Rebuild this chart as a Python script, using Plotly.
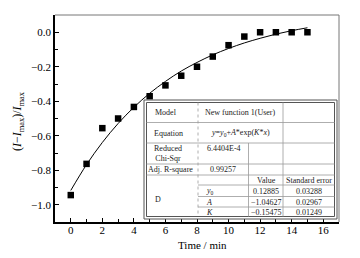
import plotly.graph_objects as go

# ---- data ----
time_min = [0, 1, 2, 3, 4, 5, 6, 7, 8, 9, 10, 11, 12, 13, 14, 15]
norm_intensity = [-0.944, -0.763, -0.556, -0.500, -0.433, -0.371, -0.308, -0.252,
                  -0.200, -0.141, -0.075, -0.025, 0.0, 0.0, 0.0, 0.0]
fit_time = [0, 1, 2, 3, 4, 5, 6, 7, 8, 9, 10, 11, 12, 13, 14, 15]
fit_values = [-0.917, -0.767, -0.639, -0.529, -0.435, -0.354, -0.285, -0.225,
              -0.175, -0.131, -0.094, -0.062, -0.035, -0.011, 0.009, 0.026]
x_ticks = [0, 2, 4, 6, 8, 10, 12, 14, 16]
y_ticks = [0.0, -0.2, -0.4, -0.6, -0.8, -1.0]

# ---- geometry (window pixels); the page body has an 8px margin ----
PAGE_W, PAGE_H, BODY = 360, 258, 8
L, R, T, B = 55, 339, 15, 222

def px(x):
    return (x - L) / (R - L)

def py(y):
    return (B - y) / (B - T)

FONT = "Liberation Serif"

fig = go.Figure()
fig.add_trace(go.Scatter(x=fit_time, y=fit_values, mode="lines", line_shape="spline",
                         line=dict(color="black", width=1), showlegend=False))
fig.add_trace(go.Scatter(x=time_min, y=norm_intensity, mode="markers",
                         marker=dict(symbol="square", size=6.5, color="black"), showlegend=False))

fig.update_layout(
    width=PAGE_W - BODY, height=PAGE_H - BODY,
    margin=dict(l=L - BODY, r=PAGE_W - R, t=T - BODY, b=PAGE_H - B, autoexpand=False),
    plot_bgcolor="white", paper_bgcolor="white",
    font=dict(family=FONT, size=11, color="black"),
    showlegend=False,
)
fig.update_xaxes(range=[-1, 17], tickvals=x_ticks, ticks="inside", ticklen=4, tickwidth=1,
                 tickcolor="black", showline=True, linecolor="black", linewidth=1.5,
                 showgrid=False, zeroline=False, tickfont=dict(size=11, family=FONT),
                 ticklabelstandoff=-3,
                 minor=dict(ticks="inside", ticklen=3, dtick=1, tickcolor="black", showgrid=False))
fig.update_yaxes(range=[-1.1, 0.1], tickvals=y_ticks, tickformat=".1f", ticks="inside", ticklen=4,
                 tickwidth=1, tickcolor="black", showline=True, linecolor="black", linewidth=1.5,
                 showgrid=False, zeroline=False, tickfont=dict(size=11, family=FONT),
                 minor=dict(ticks="inside", ticklen=3, dtick=0.1, tick0=0, tickcolor="black", showgrid=False))

# top/right frame (gray)
fig.add_shape(type="line", xref="paper", yref="paper", x0=0, x1=1, y0=1, y1=1,
              line=dict(color="#777", width=1))
fig.add_shape(type="line", xref="paper", yref="paper", x0=1, x1=1, y0=0, y1=1,
              line=dict(color="#777", width=1))

# axis titles
fig.add_annotation(xref="paper", yref="paper", x=px(202), y=py(245), showarrow=False,
                   xanchor="center", yanchor="middle",
                   text="Time / min", font=dict(size=11, family=FONT))
fig.add_annotation(xref="paper", yref="paper", x=px(18), y=py(121), showarrow=False, textangle=-90,
                   xanchor="center", yanchor="middle",
                   text="(<i>I</i>\u2212<i>I</i><sub>max</sub>)/<i>I</i><sub>max</sub>",
                   font=dict(size=12, family=FONT))

# ---- inset results table ----
def hline(y, x0, x1, color="#999", width=0.8, dash="solid"):
    fig.add_shape(type="line", xref="paper", yref="paper", x0=px(x0), x1=px(x1), y0=py(y), y1=py(y),
                  line=dict(color=color, width=width, dash=dash))

def vline(x, y0, y1, color="#999", width=0.8, dash="solid"):
    fig.add_shape(type="line", xref="paper", yref="paper", x0=px(x), x1=px(x), y0=py(y0), y1=py(y1),
                  line=dict(color=color, width=width, dash=dash))

tx0, tx1, ty0, ty1 = 144, 337, 100, 219
ix0, ix1, iy0, iy1 = 146.5, 334.5, 102.5, 216.5
fig.add_shape(type="rect", xref="paper", yref="paper", x0=px(tx0), x1=px(tx1), y0=py(ty1), y1=py(ty0),
              fillcolor="white", line=dict(color="#555", width=1))
fig.add_shape(type="rect", xref="paper", yref="paper", x0=px(ix0), x1=px(ix1), y0=py(iy1), y1=py(iy0),
              line=dict(color="#555", width=1))

c1, c2, c3 = 198, 248.5, 283
for y in [122.5, 143, 164, 175]:
    hline(y, ix0, ix1)
for y in [185, 196.5, 207]:
    hline(y, c1, ix1)
vline(c1, iy0, iy1, dash="dot")
vline(c3, iy0, iy1)
vline(c2, 143, iy1)

def txt(x, y, s, anchor="center", yanchor="middle"):
    fig.add_annotation(xref="paper", yref="paper", x=px(x), y=py(y), text=s, showarrow=False,
                       xanchor=anchor, yanchor=yanchor, font=dict(size=8, family=FONT, color="#222"))

txt(153, 112.5, "Model", "left")
txt(240.5, 112.5, "New function 1(User)")
txt(152, 133, "Equation", "left")
txt(240.5, 133, "<i>y</i>=<i>y</i><sub>0</sub>+<i>A</i>*exp(<i>K</i>*<i>x</i>)")
txt(152, 153, "Reduced<br>Chi-Sqr", "left")
txt(205, 148.5, "6.4404E-4", "left")
txt(170.5, 169.5, "Adj. R-square")
txt(223, 169.5, "0.99257")
txt(153, 199, "D", "left")
txt(266, 180, "Value")
txt(309, 180, "Standard error")
txt(204, 191, "<i>y</i><sub>0</sub>", "left")
txt(204, 202, "<i>A</i>", "left")
txt(204, 212.5, "<i>K</i>", "left")
txt(266, 191, "0.12885")
txt(266, 202, "\u22121.04627")
txt(266, 212.5, "\u22120.15475")
txt(309, 191, "0.03288")
txt(309, 202, "0.02967")
txt(309, 212.5, "0.01249")

fig.write_html("out.html")
